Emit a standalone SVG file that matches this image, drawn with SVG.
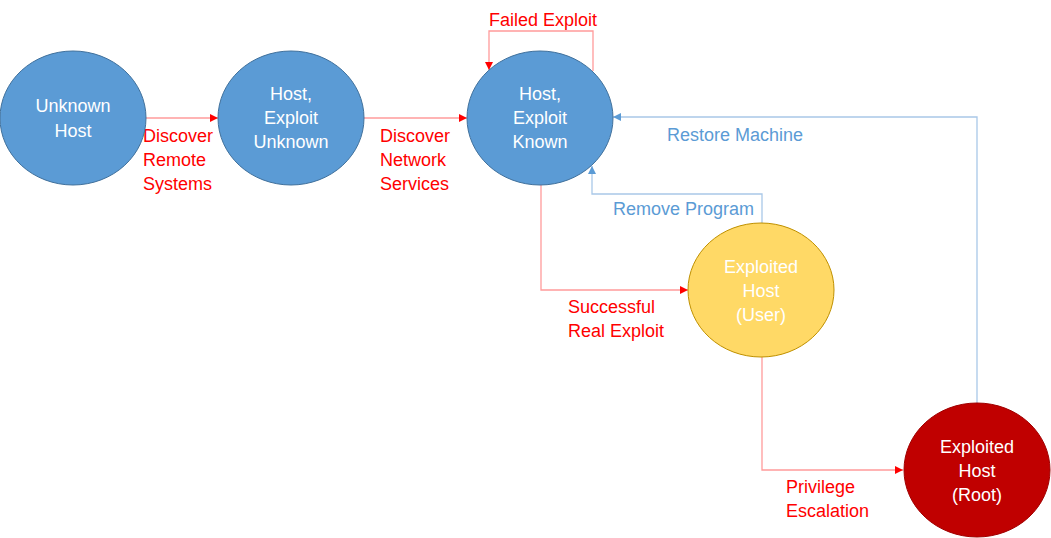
<svg xmlns="http://www.w3.org/2000/svg" width="1051" height="538" viewBox="0 0 1051 538">
<style>
.node text{font-family:"Liberation Sans",Arial,sans-serif;font-size:18px;fill:#FFFFFF;text-anchor:middle}
.blue ellipse{fill:#5B9BD5;stroke:#41719C;stroke-width:1}
.yellow ellipse{fill:#FFD966;stroke:#BF9000;stroke-width:1}
.red ellipse{fill:#C00000;stroke:#A00000;stroke-width:1}
.er{fill:none;stroke:#FF9B9B;stroke-width:1.3}
.eb{fill:none;stroke:#A9C8E8;stroke-width:1.3}
.lab{font-family:"Liberation Sans",Arial,sans-serif;font-size:18px}
.lr{fill:#FF0000}
.lb{fill:#5B9BD5}
</style>
<defs>
<marker id="ar" markerUnits="userSpaceOnUse" markerWidth="10" markerHeight="10" refX="8" refY="4" orient="auto">
<path d="M0,0 L8,4 L0,8 Z" fill="#FF0000"/>
</marker>
<marker id="ab" markerUnits="userSpaceOnUse" markerWidth="10" markerHeight="10" refX="8" refY="4" orient="auto">
<path d="M0,0 L8,4 L0,8 Z" fill="#5B9BD5"/>
</marker>
</defs>
<rect width="1051" height="538" fill="#FFFFFF"/>
<g id="connectors">
<path class="er" d="M146,118 L218,118" marker-end="url(#ar)"/>
<path class="er" d="M364,118 L467,118" marker-end="url(#ar)"/>
<path class="er" d="M593,71 L593,31 L489,31 L489,70" marker-end="url(#ar)"/>
<path class="eb" d="M977,403 L977,117 L613,117" marker-end="url(#ab)"/>
<path class="eb" d="M762,223 L762,194 L592,194 L592,166" marker-end="url(#ab)"/>
<path class="er" d="M541,185 L541,290 L688,290" marker-end="url(#ar)"/>
<path class="er" d="M762,357 L762,470 L903,470" marker-end="url(#ar)"/>
<text class="lab lr" x="143" y="142">Discover</text>
<text class="lab lr" x="143" y="166">Remote</text>
<text class="lab lr" x="143" y="190">Systems</text>
<text class="lab lr" x="380" y="142">Discover</text>
<text class="lab lr" x="380" y="166">Network</text>
<text class="lab lr" x="380" y="190">Services</text>
<text class="lab lr" x="489" y="26">Failed Exploit</text>
<text class="lab lb" x="667" y="141">Restore Machine</text>
<text class="lab lb" x="613" y="215">Remove Program</text>
<text class="lab lr" x="568" y="313">Successful</text>
<text class="lab lr" x="568" y="337">Real Exploit</text>
<text class="lab lr" x="786" y="493">Privilege</text>
<text class="lab lr" x="786" y="517">Escalation</text>
</g>
<g id="unknown-host" class="node blue">
<ellipse cx="73" cy="118" rx="73" ry="67"/>
<text x="73" y="112">Unknown</text>
<text x="73" y="137">Host</text>
</g>
<g id="host-exploit-unknown" class="node blue">
<ellipse cx="291" cy="118" rx="73" ry="67"/>
<text x="291" y="100">Host,</text>
<text x="291" y="124">Exploit</text>
<text x="291" y="148">Unknown</text>
</g>
<g id="host-exploit-known" class="node blue">
<ellipse cx="540" cy="118" rx="73" ry="67"/>
<text x="540" y="100">Host,</text>
<text x="540" y="124">Exploit</text>
<text x="540" y="148">Known</text>
</g>
<g id="exploited-host-user" class="node yellow">
<ellipse cx="761" cy="290" rx="73" ry="67"/>
<text x="761" y="273">Exploited</text>
<text x="761" y="297">Host</text>
<text x="761" y="321">(User)</text>
</g>
<g id="exploited-host-root" class="node red">
<ellipse cx="977" cy="470" rx="73" ry="67"/>
<text x="977" y="453">Exploited</text>
<text x="977" y="477">Host</text>
<text x="977" y="501">(Root)</text>
</g>
</svg>
